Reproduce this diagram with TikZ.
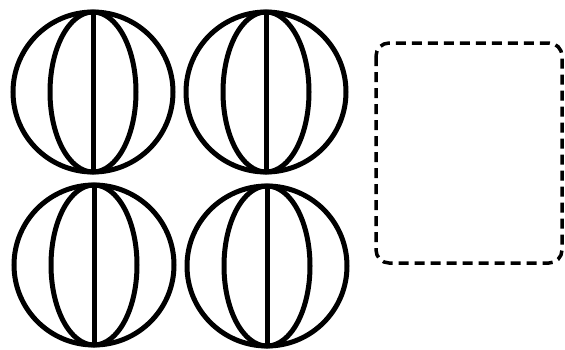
\documentclass[tikz,border=0pt]{standalone}
\begin{document}
\begin{tikzpicture}[x=1pt,y=-1pt,
  globeline/.style={line width=5pt,draw=black},
  dashbox/.style={line width=3.5pt,draw=black,dash pattern=on 10pt off 6pt,rounded corners=13pt}]
\useasboundingbox (0,0) rectangle (565,349);
\foreach \cx/\cy in {93/92, 266/92, 94/265, 267/266}{
  \draw[globeline] (\cx,\cy) circle[radius=80];
  \draw[globeline] (\cx,\cy) ellipse[x radius=43, y radius=80];
  \draw[globeline] (\cx,\cy-80) -- (\cx,\cy+80);
}
\draw[dashbox] (376,43) rectangle (562,263);
\end{tikzpicture}
\end{document}
